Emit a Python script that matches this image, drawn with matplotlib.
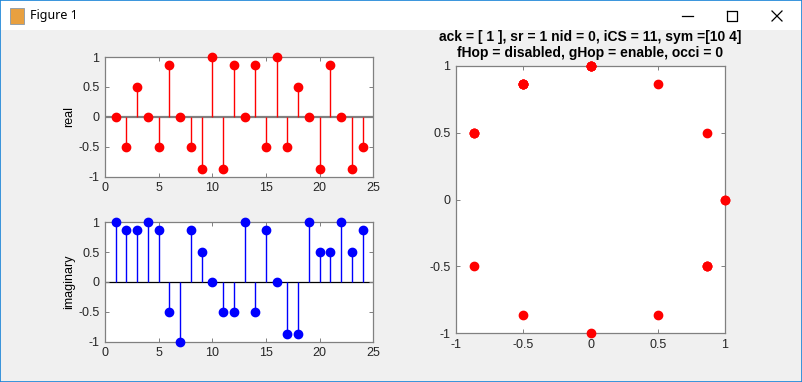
import numpy as np
import matplotlib
matplotlib.use('Agg')
import matplotlib.pyplot as plt
from matplotlib.patches import Rectangle
from matplotlib.lines import Line2D

plt.rcParams['font.family'] = ['Liberation Sans', 'DejaVu Sans']

# ── Données ─────────────────────────────────────────────────────────
n = np.arange(1, 25)
s3 = 0.866
reel = [0, -0.5, 0.5, 0, -0.5, s3, 0, -0.5, -s3, 1, -s3, s3,
        0, s3, -0.5, 1, -0.5, 0.5, 0, -s3, s3, 0, -s3, -0.5]
imag = [1, s3, s3, 1, s3, -0.5, -1, s3, 0.5, 0, -0.5, -0.5,
        1, -0.5, s3, 0, -s3, -s3, 1, 0.5, 0.5, 1, 0.5, s3]
ticks_n = [0, 5, 10, 15, 20, 25]
ticks_v = [-1, -0.5, 0, 0.5, 1]
tick_lbl = ["-1", "-0.5", "0", "0.5", "1"]
titre = "ack = [ 1 ], sr = 1 nid = 0, iCS = 11, sym =[10 4]\nfHop = disabled, gHop = enable, occi = 0"

W, H = 802, 382
fig = plt.figure(figsize=(W / 100, H / 100), dpi=100, facecolor="#f0f0f0")

# ── Barre de titre de la fenêtre ────────────────────────────────────
fig.patches.append(Rectangle((0, 1 - 30 / H), 1, 30 / H, transform=fig.transFigure,
                             facecolor="white", edgecolor="none", zorder=0))
fig.patches.append(Rectangle((0, 0), 1, 1, transform=fig.transFigure,
                             facecolor="none", edgecolor="#1883d7", lw=1.2, zorder=5))
fig.text(30 / W, 1 - 16 / H, "Figure 1", fontsize=9, va="center", ha="left",
         family=["Noto Sans", "DejaVu Sans"])
fig.patches.append(Rectangle((10 / W, 1 - 24 / H), 14 / W, 16 / H, transform=fig.transFigure,
                             facecolor="#e8a040", edgecolor="#8899aa", lw=0.6))
def ligne(xs, ys):
    fig.lines.append(Line2D([x / W for x in xs], [1 - y / H for y in ys],
                            transform=fig.transFigure, color="black", lw=0.9))
ligne([682, 693], [16, 16])
ligne([727, 737, 737, 727, 727], [11, 11, 21, 21, 11])
ligne([772, 782], [11, 21])
ligne([772, 782], [21, 11])


def style_axes(ax):
    ax.set_facecolor("white")
    for sp in ax.spines.values():
        sp.set_color("#808080")
        sp.set_linewidth(0.9)
    ax.tick_params(direction="in", top=True, right=True, length=3, width=0.7,
                   color="#808080", labelsize=9, labelcolor="#262626", pad=4)


def stem_plot(ax, y, col, base_col, base_lw):
    ax.axhline(0, color=base_col, lw=base_lw, zorder=1)
    ax.vlines(n, 0, y, colors=col, lw=1, zorder=2)
    ax.plot(n, y, "o", color=col, ms=6, zorder=3, clip_on=False)
    ax.set_xlim(0, 25)
    ax.set_ylim(-1, 1)
    ax.set_xticks(ticks_n)
    ax.set_yticks(ticks_v)
    ax.set_yticklabels(tick_lbl)
    style_axes(ax)


# ── Partie réelle ───────────────────────────────────────────────────
ax1 = fig.add_axes([105 / W, 1 - 176.7 / H, 268.3 / W, 119.7 / H])
stem_plot(ax1, reel, "red", "#808080", 1.6)
ax1.set_ylabel("real", fontsize=9, labelpad=2)

# ── Partie imaginaire ───────────────────────────────────────────────
ax2 = fig.add_axes([105 / W, 1 - 341.7 / H, 268.3 / W, 119.4 / H])
stem_plot(ax2, imag, "blue", "black", 0.9)
ax2.set_ylabel("imaginary", fontsize=9, labelpad=2)

# ── Constellation ───────────────────────────────────────────────────
ax3 = fig.add_axes([456 / W, 1 - 333.3 / H, 269 / W, 267.6 / H])
ax3.plot(reel, imag, "o", color="red", ms=6, clip_on=False, zorder=3)
ax3.set_xlim(-1, 1)
ax3.set_ylim(-1, 1)
ax3.set_xticks(ticks_v)
ax3.set_xticklabels(tick_lbl)
ax3.set_yticks(ticks_v)
ax3.set_yticklabels(tick_lbl)
style_axes(ax3)
ax3.set_title(titre, fontsize=10, fontweight="bold", linespacing=1.25, pad=6)

fig.savefig("out.png", dpi=100, facecolor=fig.get_facecolor())
